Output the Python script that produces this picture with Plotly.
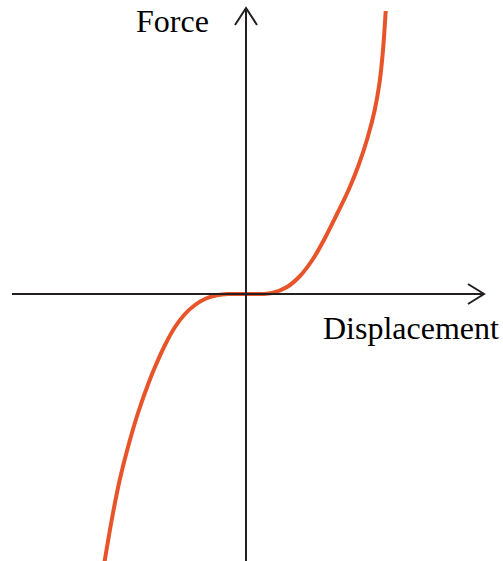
import plotly.graph_objects as go

# Data (arbitrary units: displacement vs force)
x_disp = [-141.5, -139, -133, -126.3, -118, -108, -96.3, -91, -81, -71, -61, -51, -40, -28, -18, 0,
          16, 26, 41, 54, 67, 79, 91, 103, 113, 121.5, 128.5, 133.5, 137, 139.7]
y_force = [-268, -253, -219, -186, -153, -119, -86, -73, -51, -33, -20, -11, -4.5, -1, 0, 0,
           0, 1, 7, 18, 35, 56, 80, 105, 130, 156, 183, 211, 244, 283]

x_label = "Displacement"
y_label = "Force"

X_RANGE = [-246, 257]
Y_RANGE = [-267, 294]

AX_COLOR = "#231F20"
CURVE_COLOR = "#E8542A"

fig = go.Figure()
fig.add_trace(go.Scatter(
    x=x_disp, y=y_force, mode="lines",
    line=dict(color=CURVE_COLOR, width=4, shape="spline", smoothing=1.0),
    hoverinfo="skip", showlegend=False,
))

x_start, x_tip = X_RANGE[0] + 12, X_RANGE[1] - 19
y_tip = Y_RANGE[1] - 8
shapes = [
    dict(type="line", x0=x_start, x1=x_tip, y0=0, y1=0, line=dict(color=AX_COLOR, width=2)),
    dict(type="line", x0=0, x1=0, y0=Y_RANGE[0], y1=y_tip, line=dict(color=AX_COLOR, width=2)),
    dict(type="path",
         path=f"M {x_tip-16},{10} L {x_tip},{0} L {x_tip-16},{-10}",
         line=dict(color=AX_COLOR, width=2)),
    dict(type="path",
         path=f"M {-11},{y_tip-17} L 0,{y_tip} L {11},{y_tip-17}",
         line=dict(color=AX_COLOR, width=2)),
]

fig.update_layout(
    width=503, height=561,
    margin=dict(l=0, r=0, t=0, b=0),
    paper_bgcolor="white", plot_bgcolor="white",
    xaxis=dict(range=X_RANGE, visible=False, fixedrange=True),
    yaxis=dict(range=Y_RANGE, visible=False, fixedrange=True),
    shapes=shapes,
    annotations=[
        dict(x=-35, y=273, xref="x", yref="y", text=y_label, showarrow=False,
             xanchor="right", yanchor="middle",
             font=dict(family="Liberation Serif, Times New Roman, serif", size=32, color="black")),
        dict(x=75, y=-34, xref="x", yref="y", text=x_label, showarrow=False,
             xanchor="left", yanchor="middle",
             font=dict(family="Liberation Serif, Times New Roman, serif", size=32, color="black")),
    ],
)

fig.write_html("out.html", config={"displayModeBar": False},
               post_script="document.body.style.margin='0';document.body.style.overflow='hidden';")
